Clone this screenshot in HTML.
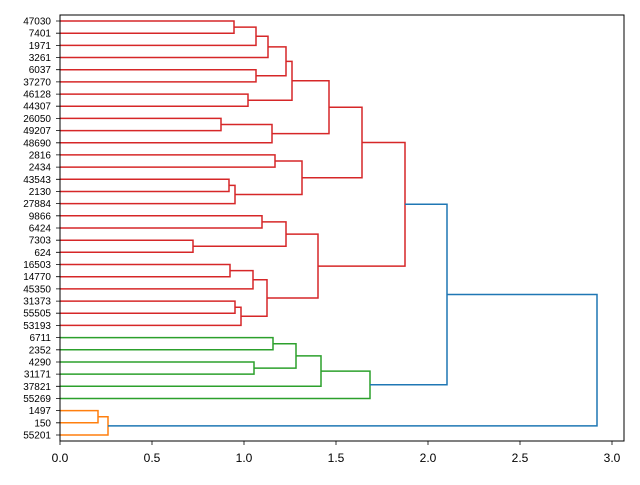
<!DOCTYPE html>
<html><head><meta charset="utf-8"><style>body{margin:0;background:#fff}</style></head>
<body>
<svg width="640" height="480" xmlns="http://www.w3.org/2000/svg" font-family="Liberation Sans, DejaVu Sans, sans-serif">
<g fill="none" stroke-width="1.5">
<g stroke="#d62728">
<polyline points="60,21 234,21 234,33.2 60,33.2"/>
<polyline points="234,27.1 256,27.1 256,45.4 60,45.4"/>
<polyline points="256,36.3 268,36.3 268,57.5 60,57.5"/>
<polyline points="60,69.7 256,69.7 256,81.9 60,81.9"/>
<polyline points="268,46.9 286,46.9 286,75.8 256,75.8"/>
<polyline points="60,94.1 248,94.1 248,106.2 60,106.2"/>
<polyline points="286,61.4 292,61.4 292,100.2 248,100.2"/>
<polyline points="60,118.4 221,118.4 221,130.6 60,130.6"/>
<polyline points="221,124.5 272,124.5 272,142.8 60,142.8"/>
<polyline points="292,80.8 329,80.8 329,133.6 272,133.6"/>
<polyline points="60,154.9 275,154.9 275,167.1 60,167.1"/>
<polyline points="60,179.3 229,179.3 229,191.5 60,191.5"/>
<polyline points="229,185.4 235,185.4 235,203.6 60,203.6"/>
<polyline points="275,161 302,161 302,194.5 235,194.5"/>
<polyline points="329,107.2 362,107.2 362,177.8 302,177.8"/>
<polyline points="60,215.8 262,215.8 262,228 60,228"/>
<polyline points="60,240.2 193,240.2 193,252.3 60,252.3"/>
<polyline points="262,221.9 286,221.9 286,246.2 193,246.2"/>
<polyline points="60,264.5 230,264.5 230,276.7 60,276.7"/>
<polyline points="230,270.6 253,270.6 253,288.9 60,288.9"/>
<polyline points="60,301.1 235,301.1 235,313.2 60,313.2"/>
<polyline points="235,307.2 241,307.2 241,325.4 60,325.4"/>
<polyline points="253,279.8 267,279.8 267,316.3 241,316.3"/>
<polyline points="286,234.1 318,234.1 318,298 267,298"/>
<polyline points="362,142.5 405,142.5 405,266.1 318,266.1"/>
</g>
<g stroke="#2ca02c">
<polyline points="60,337.6 273,337.6 273,349.8 60,349.8"/>
<polyline points="60,362 254,362 254,374.1 60,374.1"/>
<polyline points="273,343.7 296,343.7 296,368.1 254,368.1"/>
<polyline points="296,355.9 321,355.9 321,386.3 60,386.3"/>
<polyline points="321,371.1 370,371.1 370,398.5 60,398.5"/>
</g>
<g stroke="#ff7f0e">
<polyline points="60,410.6 98,410.6 98,422.8 60,422.8"/>
<polyline points="98,416.7 108,416.7 108,435 60,435"/>
</g>
<g stroke="#1f77b4">
<polyline points="405,204.3 447,204.3 447,384.8 370,384.8"/>
<polyline points="447,294.5 597,294.5 597,425.9 108,425.9"/>
</g>
</g>
<rect x="60" y="15" width="564" height="426" fill="none" stroke="#000" stroke-width="1"/>
<g stroke="#000" stroke-width="0.8">
<line x1="60" y1="441" x2="60" y2="445"/><line x1="152" y1="441" x2="152" y2="445"/><line x1="244" y1="441" x2="244" y2="445"/><line x1="336" y1="441" x2="336" y2="445"/><line x1="428" y1="441" x2="428" y2="445"/><line x1="520" y1="441" x2="520" y2="445"/><line x1="612" y1="441" x2="612" y2="445"/>
</g>
<g font-size="12" text-anchor="middle" fill="#000">
<text x="60" y="462">0.0</text><text x="152" y="462">0.5</text><text x="244" y="462">1.0</text><text x="336" y="462">1.5</text><text x="428" y="462">2.0</text><text x="520" y="462">2.5</text><text x="612" y="462">3.0</text>
</g>
<g font-size="10" text-anchor="end" fill="#000">
<text x="51" y="24.5">47030</text><text x="51" y="36.7">7401</text><text x="51" y="48.9">1971</text><text x="51" y="61">3261</text><text x="51" y="73.2">6037</text><text x="51" y="85.4">37270</text><text x="51" y="97.6">46128</text><text x="51" y="109.7">44307</text><text x="51" y="121.9">26050</text><text x="51" y="134.1">49207</text><text x="51" y="146.3">48690</text><text x="51" y="158.4">2816</text><text x="51" y="170.6">2434</text><text x="51" y="182.8">43543</text><text x="51" y="195">2130</text><text x="51" y="207.1">27884</text><text x="51" y="219.3">9866</text><text x="51" y="231.5">6424</text><text x="51" y="243.7">7303</text><text x="51" y="255.8">624</text><text x="51" y="268">16503</text><text x="51" y="280.2">14770</text><text x="51" y="292.4">45350</text><text x="51" y="304.6">31373</text><text x="51" y="316.7">55505</text><text x="51" y="328.9">53193</text><text x="51" y="341.1">6711</text><text x="51" y="353.3">2352</text><text x="51" y="365.5">4290</text><text x="51" y="377.6">31171</text><text x="51" y="389.8">37821</text><text x="51" y="402">55269</text><text x="51" y="414.1">1497</text><text x="51" y="426.3">150</text><text x="51" y="438.5">55201</text>
</g>
<g stroke="#000" stroke-width="0.8">
<path d="M56 21h4M56 33.2h4M56 45.4h4M56 57.5h4M56 69.7h4M56 81.9h4M56 94.1h4M56 106.2h4M56 118.4h4M56 130.6h4M56 142.8h4M56 154.9h4M56 167.1h4M56 179.3h4M56 191.5h4M56 203.6h4M56 215.8h4M56 228h4M56 240.2h4M56 252.3h4M56 264.5h4M56 276.7h4M56 288.9h4M56 301.1h4M56 313.2h4M56 325.4h4M56 337.6h4M56 349.8h4M56 362h4M56 374.1h4M56 386.3h4M56 398.5h4M56 410.6h4M56 422.8h4M56 435h4"/>
</g>
</svg>
</body></html>
